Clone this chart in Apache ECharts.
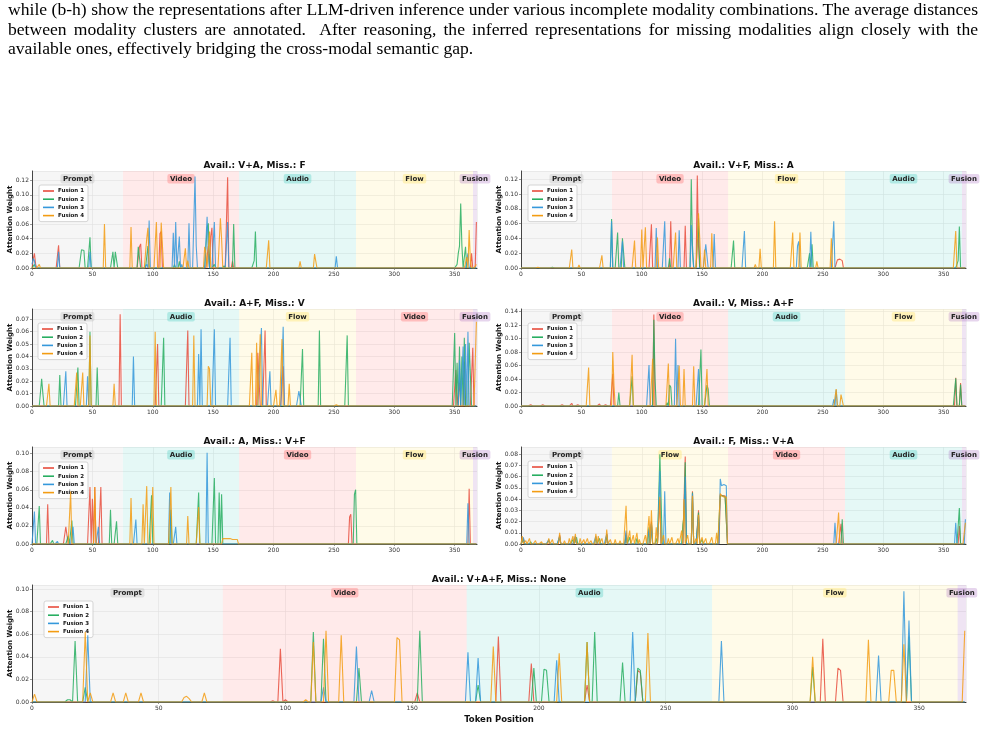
<!DOCTYPE html>
<html>
<head>
<meta charset="utf-8">
<script src="https://cdn.jsdelivr.net/npm/echarts@6/dist/echarts.min.js"></script>
<style>
body{margin:0;background:#fff;}
#chart{position:absolute;left:0;top:0;width:985px;height:739px;}
#cap{position:absolute;left:8px;top:0;width:970px;font-family:'Liberation Serif','Times New Roman',serif;font-size:17.6px;line-height:19.6px;color:#000;pointer-events:none;}
#cap .j{text-align:justify;text-align-last:justify;white-space:nowrap;}
</style>
</head>
<body>
<div id="chart"></div>
<div id="cap">
  <div class="j">while (b-h) show the representations after LLM-driven inference under various incomplete modality combinations. The average distances</div>
  <div class="j">between modality clusters are annotated.&nbsp; After reasoning, the inferred representations for missing modalities align closely with the</div>
  <div>available ones, effectively bridging the cross-modal semantic gap.</div>
</div>
<script>
// token positions 0..368
var nTok = 369;
var seriesNames = ['Fusion 1', 'Fusion 2', 'Fusion 3', 'Fusion 4'];
var xTicks = [0, 50, 100, 150, 200, 250, 300, 350];

// panel titles and the order of modality blocks along the sequence
var titles = [
  'Avail.: V+A, Miss.: F', 'Avail.: V+F, Miss.: A',
  'Avail.: A+F, Miss.: V', 'Avail.: V, Miss.: A+F',
  'Avail.: A, Miss.: V+F', 'Avail.: F, Miss.: V+A',
  'Avail.: V+A+F, Miss.: None'
];
var blockOrder = [
  ['Prompt', 'Video', 'Audio', 'Flow', 'Fusion'],
  ['Prompt', 'Video', 'Flow', 'Audio', 'Fusion'],
  ['Prompt', 'Audio', 'Flow', 'Video', 'Fusion'],
  ['Prompt', 'Video', 'Audio', 'Flow', 'Fusion'],
  ['Prompt', 'Audio', 'Video', 'Flow', 'Fusion'],
  ['Prompt', 'Flow', 'Video', 'Audio', 'Fusion'],
  ['Prompt', 'Video', 'Audio', 'Flow', 'Fusion']
];
var blockEdges = [0, 75.3, 171.5, 268.3, 365.2, 368.5];
var yMax = [0.1326, 0.131, 0.0783, 0.144, 0.1073, 0.0865, 0.1035];
var yStep = [0.02, 0.02, 0.01, 0.02, 0.02, 0.01, 0.02];

// attention peaks [token, weight]; all other tokens read as 0
// (a) V+A, miss F
var p1f1 = [[1,0.012],[2,0.020],[3,0.005],[22,0.031],[89,0.029],[90,0.033],[106,0.047],[107,0.050],[146,0.030],[148,0.043],[149,0.055],[162,0.124],[166,0.009],[364,0.020],[368,0.063]];
var p1f2 = [[2,0.005],[41,0.025],[42,0.025],[43,0.024],[48,0.042],[67,0.022],[69,0.022],[70,0.022],[88,0.029],[89,0.028],[96,0.030],[118,0.005],[122,0.009],[145,0.055],[146,0.061],[151,0.005],[159,0.003],[167,0.060],[184,0.010],[185,0.050],[352,0.005],[353,0.020],[354,0.030],[355,0.088],[356,0.030],[359,0.029]];
var p1f3 = [[0,0.005],[1,0.013],[2,0.010],[22,0.022],[48,0.022],[95,0.005],[97,0.065],[117,0.048],[119,0.063],[122,0.043],[124,0.005],[130,0.061],[135,0.125],[136,0.030],[145,0.070],[146,0.020],[151,0.063],[162,0.063],[252,0.016],[361,0.020]];
var p1f4 = [[6,0.005],[60,0.060],[82,0.056],[95,0.040],[96,0.055],[103,0.063],[107,0.062],[108,0.060],[127,0.027],[129,0.010],[143,0.029],[144,0.020],[147,0.050],[156,0.068],[157,0.040],[196,0.038],[222,0.009],[234,0.019],[235,0.017],[360,0.015],[362,0.052],[363,0.010],[368,0.005]];
// (b) V+F, miss A
var p2f1 = [[108,0.059],[124,0.063],[136,0.057],[146,0.125],[147,0.030],[262,0.011],[263,0.012],[264,0.012],[265,0.011],[266,0.010]];
var p2f2 = [[26,0.001],[75,0.066],[80,0.048],[84,0.040],[85,0.020],[123,0.013],[141,0.120],[142,0.030],[147,0.067],[176,0.037],[239,0.020],[241,0.032],[362,0.010],[363,0.056]];
var p2f3 = [[75,0.063],[84,0.036],[112,0.054],[119,0.063],[131,0.051],[141,0.058],[142,0.020],[153,0.032],[154,0.030],[160,0.046],[185,0.050],[229,0.030],[230,0.036],[240,0.049],[259,0.063]];
var p2f4 = [[14,0.001],[42,0.025],[48,0.004],[67,0.017],[94,0.037],[100,0.052],[103,0.055],[113,0.041],[128,0.048],[147,0.074],[148,0.040],[152,0.025],[158,0.047],[194,0.005],[198,0.026],[210,0.063],[225,0.048],[231,0.048],[245,0.009],[257,0.040],[360,0.050]];
// (c) A+F, miss V
var p3f1 = [[73,0.074],[104,0.050],[129,0.061],[187,0.043],[188,0.043],[193,0.061],[208,0.032],[351,0.029],[354,0.019],[358,0.036],[365,0.047]];
var p3f2 = [[8,0.022],[9,0.010],[23,0.025],[38,0.031],[48,0.060],[54,0.031],[109,0.055],[224,0.046],[238,0.061],[261,0.057],[350,0.059],[352,0.035],[354,0.048],[356,0.040],[358,0.055],[362,0.051],[363,0.050]];
var p3f3 = [[28,0.028],[46,0.024],[84,0.040],[138,0.042],[140,0.062],[151,0.062],[164,0.055],[189,0.045],[190,0.063],[197,0.028],[208,0.064],[221,0.012],[222,0.013],[354,0.037],[357,0.048],[359,0.050],[361,0.060]];
var p3f4 = [[14,0.018],[37,0.027],[42,0.027],[48,0.057],[68,0.018],[102,0.060],[134,0.057],[146,0.032],[147,0.030],[182,0.043],[186,0.051],[189,0.058],[202,0.013],[207,0.054],[213,0.018],[251,0.001],[252,0.001],[368,0.068]];
// (d) V, miss A+F
var p4f1 = [[8,0.002],[18,0.002],[34,0.002],[42,0.004],[47,0.002],[62,0.001],[65,0.003],[67,0.002],[70,0.002],[71,0.002],[76,0.048],[110,0.136],[360,0.042],[364,0.034]];
var p4f2 = [[81,0.020],[92,0.044],[110,0.128],[111,0.040],[121,0.005],[123,0.031],[124,0.028],[149,0.084],[154,0.031],[155,0.025],[360,0.041],[364,0.032]];
var p4f3 = [[106,0.061],[128,0.100],[130,0.061],[147,0.055],[259,0.010],[261,0.024]];
var p4f4 = [[56,0.057],[76,0.080],[77,0.030],[92,0.076],[109,0.070],[122,0.063],[131,0.060],[135,0.055],[143,0.059],[154,0.055],[261,0.025],[265,0.017],[266,0.015]];
// (e) A, miss V+F
var p5f1 = [[13,0.044],[28,0.019],[29,0.018],[48,0.063],[50,0.050],[52,0.063],[57,0.063],[263,0.030],[264,0.033],[362,0.061]];
var p5f2 = [[6,0.042],[17,0.004],[30,0.009],[33,0.026],[65,0.038],[70,0.025],[99,0.054],[115,0.038],[138,0.057],[151,0.073],[155,0.057],[157,0.055],[267,0.055],[268,0.060]];
var p5f3 = [[2,0.036],[21,0.003],[34,0.019],[55,0.019],[86,0.027],[114,0.057],[119,0.019],[145,0.101],[361,0.045]];
var p5f4 = [[32,0.058],[52,0.063],[82,0.051],[92,0.044],[95,0.064],[100,0.063],[115,0.063],[129,0.031],[138,0.041],[158,0.006],[159,0.006],[160,0.006],[161,0.006],[162,0.006],[163,0.006],[164,0.006],[165,0.005],[166,0.005],[167,0.005],[168,0.005],[169,0.005],[170,0.005]];
// (f) F, miss V+A
var p6f1 = [[2,0.005],[32,0.008],[45,0.006],[71,0.009],[87,0.010],[108,0.020],[115,0.040],[136,0.078],[142,0.047],[147,0.030],[165,0.044],[166,0.043],[167,0.043],[168,0.043],[169,0.043],[170,0.043],[265,0.018],[363,0.016]];
var p6f2 = [[2,0.004],[8,0.002],[23,0.003],[32,0.006],[43,0.004],[46,0.006],[62,0.006],[65,0.005],[71,0.008],[87,0.008],[90,0.006],[96,0.005],[106,0.015],[108,0.018],[112,0.005],[115,0.080],[116,0.040],[134,0.017],[135,0.025],[136,0.073],[142,0.046],[147,0.028],[150,0.004],[165,0.043],[166,0.043],[167,0.043],[168,0.042],[169,0.042],[170,0.042],[266,0.022],[363,0.032]];
var p6f3 = [[2,0.006],[23,0.004],[32,0.007],[45,0.007],[62,0.007],[71,0.009],[87,0.012],[106,0.013],[108,0.018],[115,0.065],[119,0.047],[135,0.020],[136,0.060],[142,0.045],[147,0.025],[165,0.058],[166,0.052],[167,0.053],[168,0.053],[169,0.052],[170,0.052],[260,0.019],[360,0.019],[368,0.022]];
var p6f4 = [[1,0.007],[4,0.003],[7,0.005],[12,0.003],[17,0.002],[23,0.005],[26,0.004],[32,0.010],[36,0.003],[40,0.005],[43,0.007],[45,0.009],[49,0.005],[52,0.004],[55,0.005],[58,0.003],[62,0.009],[64,0.007],[67,0.005],[71,0.013],[74,0.004],[78,0.004],[82,0.003],[87,0.034],[90,0.012],[93,0.008],[96,0.010],[98,0.004],[103,0.008],[106,0.025],[108,0.030],[112,0.015],[115,0.042],[118,0.008],[122,0.005],[125,0.006],[130,0.005],[133,0.012],[135,0.040],[138,0.008],[142,0.043],[145,0.005],[147,0.026],[150,0.006],[153,0.005],[158,0.006],[162,0.010],[165,0.045],[166,0.043],[167,0.043],[168,0.042],[169,0.042],[170,0.042],[263,0.028],[368,0.019]];
// (g) V+A+F, miss none
var p7f1 = [[95,0.001],[98,0.047],[100,0.002],[152,0.008],[184,0.058],[197,0.034],[219,0.015],[239,0.028],[240,0.026],[312,0.056],[318,0.030],[319,0.028]];
var p7f2 = [[14,0.002],[15,0.002],[17,0.054],[21,0.013],[111,0.062],[115,0.056],[129,0.030],[153,0.063],[176,0.015],[198,0.030],[202,0.029],[203,0.028],[219,0.053],[222,0.062],[233,0.035],[239,0.030],[240,0.028],[308,0.031],[346,0.058]];
var p7f3 = [[22,0.059],[115,0.013],[128,0.049],[134,0.010],[172,0.044],[176,0.039],[207,0.037],[237,0.062],[272,0.054],[334,0.041],[344,0.098],[346,0.072]];
var p7f4 = [[1,0.007],[21,0.062],[23,0.008],[32,0.008],[37,0.008],[43,0.008],[60,0.004],[61,0.005],[62,0.003],[68,0.008],[108,0.002],[111,0.053],[116,0.063],[122,0.059],[144,0.057],[145,0.055],[182,0.049],[208,0.043],[219,0.053],[243,0.061],[308,0.040],[330,0.055],[339,0.028],[340,0.028],[344,0.051],[368,0.063]];

var panels = [
  [p1f1, p1f2, p1f3, p1f4], [p2f1, p2f2, p2f3, p2f4],
  [p3f1, p3f2, p3f3, p3f4], [p4f1, p4f2, p4f3, p4f4],
  [p5f1, p5f2, p5f3, p5f4], [p6f1, p6f2, p6f3, p6f4],
  [p7f1, p7f2, p7f3, p7f4]
];

// ---- styling / layout ----
var lineColors = ['#e74c3c', '#27ae60', '#3498db', '#f39c12'];
var blockFill = {
  Prompt: 'rgba(190,190,190,0.14)', Video: 'rgba(255,107,107,0.14)',
  Audio: 'rgba(78,205,196,0.15)', Flow: 'rgba(255,230,109,0.15)', Fusion: 'rgba(155,89,182,0.16)'
};
var badgeFill = {
  Prompt: 'rgba(150,150,150,0.22)', Video: 'rgba(255,107,107,0.35)',
  Audio: 'rgba(78,205,196,0.35)', Flow: 'rgba(255,230,109,0.4)', Fusion: 'rgba(155,89,182,0.25)'
};
var boxes = [
  {l: 32, t: 171, w: 445, h: 97}, {l: 521, t: 171, w: 445, h: 97},
  {l: 32, t: 309, w: 445, h: 97}, {l: 521, t: 309, w: 445, h: 97},
  {l: 32, t: 447, w: 445, h: 97}, {l: 521, t: 447, w: 445, h: 97},
  {l: 32, t: 585, w: 934, h: 117}
];
var legendPos = [[39, 185], [528, 185], [38, 323], [528, 323], [39, 462], [528, 461], [44, 601]];
var FONT = 'DejaVu Sans';

function dense(peaks) {
  var a = [];
  for (var i = 0; i < nTok; i++) a.push([i, 0]);
  peaks.forEach(function (p) { a[p[0]][1] = p[1]; });
  return a;
}

var grid = [], xAxis = [], yAxis = [], series = [], legend = [], graphic = [];

boxes.forEach(function (b, i) {
  grid.push({left: b.l, top: b.t, width: b.w, height: b.h, containLabel: false, outerBoundsMode: 'none'});
  xAxis.push({
    gridIndex: i, type: 'value', min: 0, max: 368.5, interval: 50,
    name: i === 6 ? 'Token Position' : '', nameLocation: 'middle', nameGap: 13, nameMoveOverlap: false,
    nameTextStyle: {fontSize: 8.5, fontWeight: 'bold', fontFamily: FONT, color: '#111'},
    axisLine: {lineStyle: {color: '#333', width: 1}},
    axisTick: {show: true, length: 2, lineStyle: {color: '#555', width: 0.6}},
    axisLabel: {fontSize: 6, color: '#333', margin: 3, fontFamily: FONT, showMaxLabel: false,
      formatter: function (v) { return xTicks.indexOf(v) >= 0 ? String(v) : ''; }},
    splitLine: {show: true, lineStyle: {color: '#e6e6e6', width: 0.6}}
  });
  var st = yStep[i];
  yAxis.push({
    gridIndex: i, type: 'value', min: 0, max: yMax[i], interval: st,
    name: 'Attention Weight', nameLocation: 'middle', nameGap: 18, nameMoveOverlap: false,
    nameTextStyle: {fontSize: 7, fontWeight: 'bold', fontFamily: FONT, color: '#111'},
    axisLine: {show: true, lineStyle: {color: '#333', width: 1}},
    axisTick: {show: true, length: 2, lineStyle: {color: '#555', width: 0.6}},
    axisLabel: {fontSize: 6, color: '#333', margin: 3, fontFamily: FONT, showMaxLabel: false,
      formatter: function (v) { var k = v / st; return Math.abs(k - Math.round(k)) < 1e-6 ? v.toFixed(2) : ''; }},
    splitLine: {show: true, lineStyle: {color: '#e6e6e6', width: 0.6}}
  });

  var areas = blockOrder[i].map(function (name, k) {
    return [{
      name: name, xAxis: blockEdges[k], itemStyle: {color: blockFill[name]},
      label: {backgroundColor: badgeFill[name]}
    }, {xAxis: blockEdges[k + 1]}];
  });

  panels[i].forEach(function (pk, s) {
    var ser = {
      name: seriesNames[s], type: 'line', xAxisIndex: i, yAxisIndex: i,
      data: dense(pk), symbol: 'none', showSymbol: false, clip: true,
      lineStyle: {color: lineColors[s], width: 1.1, opacity: 0.85},
      itemStyle: {color: lineColors[s]},
      emphasis: {disabled: true}, z: 3 + s
    };
    if (s === 0) {
      ser.markArea = {
        silent: true, z: 1,
        label: {show: true, position: 'insideTop', distance: 3, fontSize: 7, fontWeight: 'bold',
          fontFamily: FONT, color: '#222', padding: [1.5, 2.5, 1, 2.5], borderRadius: 2},
        data: areas
      };
    }
    series.push(ser);
  });

  legend.push({
    data: seriesNames, orient: 'vertical', left: legendPos[i][0], top: legendPos[i][1],
    icon: 'rect', itemWidth: 11, itemHeight: 1.6, itemGap: 2.2,
    padding: [3, 4, 3, 4], borderColor: '#cccccc', borderWidth: 0.8, borderRadius: 2,
    backgroundColor: 'rgba(255,255,255,0.85)', selectedMode: false,
    textStyle: {fontSize: 5.5, fontWeight: 'bold', fontFamily: FONT, color: '#111', padding: [0, 0, 0, -1]}
  });

  graphic.push({
    type: 'text', x: b.l + b.w / 2, y: b.t - 5,
    style: {text: titles[i], font: 'bold 9px "DejaVu Sans"', fill: '#111', align: 'center', verticalAlign: 'middle'}
  });
});

var chart = echarts.init(document.getElementById('chart'), null, {renderer: 'canvas'});
chart.setOption({
  backgroundColor: '#fff',
  animation: false,
  grid: grid, xAxis: xAxis, yAxis: yAxis,
  legend: legend, series: series, graphic: graphic
});
</script>
</body>
</html>
